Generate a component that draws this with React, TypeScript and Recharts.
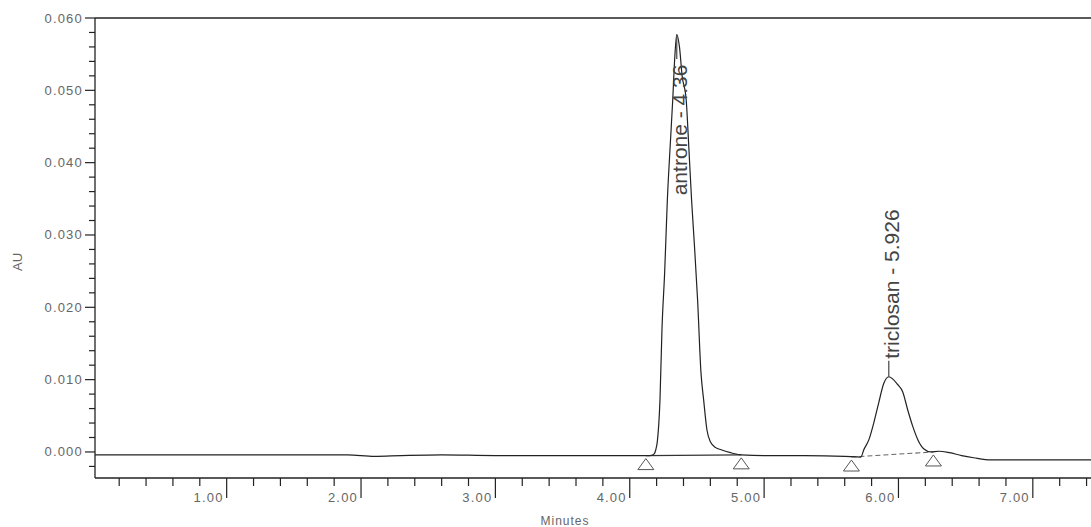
import { ComposedChart, Line, Scatter, XAxis, YAxis, ReferenceLine } from 'recharts';

// chromatogram trace (minutes, AU)
const traceTime = [
  0.02, 0.5, 1.0, 1.5, 1.9, 2.1, 2.3, 2.6, 3.0, 3.5, 4.0, 4.15,
  4.18, 4.195, 4.205, 4.225, 4.24, 4.26, 4.28, 4.3, 4.32, 4.335, 4.35,
  4.37, 4.39, 4.42, 4.44, 4.46, 4.48, 4.505, 4.53, 4.55, 4.575, 4.6, 4.64, 4.68, 4.75, 4.83,
  5.0, 5.3, 5.6, 5.72, 5.742, 5.78, 5.816, 5.853, 5.891, 5.928,
  5.995, 6.032, 6.069, 6.107, 6.144, 6.19, 6.24, 6.3, 6.38, 6.47, 6.56, 6.69, 7.0, 7.5,
];
const traceAU = [
  -0.0004, -0.0004, -0.0004, -0.0004, -0.0004, -0.0006, -0.0005, -0.0004, -0.0005, -0.0005, -0.0005, -0.0005,
  -0.0003, 0.0004, 0.0014, 0.0072, 0.017, 0.0249, 0.0349, 0.042, 0.0487, 0.0545, 0.0577,
  0.056, 0.052, 0.0487, 0.042, 0.0349, 0.029, 0.021, 0.011, 0.0072, 0.003, 0.0014, 0.0006, 0.0003, -0.0001, -0.0004,
  -0.0005, -0.0005, -0.0006, -0.0007, 0.0003, 0.0017, 0.004, 0.0068, 0.0095, 0.0104,
  0.0093, 0.0083, 0.0058, 0.0035, 0.0017, 0.0004, 0.0, 0.0001, -0.0001, -0.0005, -0.0008, -0.0011, -0.0011, -0.0011,
];

// integration baselines
const antroneBaseTime = [4.12, 4.83];
const antroneBaseAU = [-0.0005, -0.0004];
const triclosanBaseTime = [5.65, 6.26];
const triclosanBaseAU = [-0.0007, 0.0];

// peak start/end marks
const markTime = [4.12, 4.83, 5.65, 6.26];
const markAU = [-0.0005, -0.0004, -0.0007, 0.0];

// peak labels
const peakNames = ['antrone - 4.36', 'triclosan - 5.926'];
const peakTime = [4.35, 5.928];
const peakAU = [0.0577, 0.0104];

const yTicks = [
  -0.002, 0, 0.002, 0.004, 0.006, 0.008, 0.01, 0.012, 0.014, 0.016, 0.018, 0.02,
  0.022, 0.024, 0.026, 0.028, 0.03, 0.032, 0.034, 0.036, 0.038, 0.04, 0.042,
  0.044, 0.046, 0.048, 0.05, 0.052, 0.054, 0.056, 0.058, 0.06,
];
const xTicks = [
  0.2, 0.4, 0.6, 0.8, 1, 1.2, 1.4, 1.6, 1.8, 2, 2.2, 2.4, 2.6, 2.8, 3, 3.2, 3.4, 3.6,
  3.8, 4, 4.2, 4.4, 4.6, 4.8, 5, 5.2, 5.4, 5.6, 5.8, 6, 6.2, 6.4, 6.6, 6.8, 7, 7.2, 7.4,
];

const zip = (ts: number[], vs: number[]) => ts.map((t, i) => ({ t, v: vs[i] }));
const trace = zip(traceTime, traceAU);
const antroneBase = zip(antroneBaseTime, antroneBaseAU);
const triclosanBase = zip(triclosanBaseTime, triclosanBaseAU);
const marks = zip(markTime, markAU);
const peaks = peakTime.map((t, i) => ({ t, v: peakAU[i], name: peakNames[i] }));

const FONT = '"Liberation Sans", Arial, sans-serif';
const INK = '#222';
const PLOT_TOP = 18;

function YTick(props: any) {
  const { x, y, payload } = props;
  const v = payload.value;
  const major = Math.abs(v * 100 - Math.round(v * 100)) < 1e-6;
  return (
    <g>
      <line x1={x - (major ? 10 : 6)} x2={x} y1={y} y2={y} stroke={INK} strokeWidth={1.2} />
      {major && (
        <text x={x - 12} y={y + 4.5} textAnchor="end" fontSize={13} letterSpacing={1.2} fill="#666" fontFamily={FONT}>
          {v.toFixed(3)}
        </text>
      )}
    </g>
  );
}

function XTick(props: any) {
  const { x, y, payload } = props;
  const v = payload.value;
  const major = Math.abs(v - Math.round(v)) < 1e-6;
  return (
    <g>
      <line x1={x} x2={x} y1={y} y2={y + (major ? 20 : 8)} stroke={INK} strokeWidth={1.2} />
      {major && (
        <text x={x - 3} y={y + 24} textAnchor="end" fontSize={13} letterSpacing={1.2} fill="#666" fontFamily={FONT}>
          {v.toFixed(2)}
        </text>
      )}
    </g>
  );
}

function Triangle(props: any) {
  const { cx, cy } = props;
  return (
    <path
      d={`M${cx},${cy + 3} L${cx - 8},${cy + 14} L${cx + 8},${cy + 14} Z`}
      fill="none"
      stroke="#555"
      strokeWidth={1}
    />
  );
}

function PeakLabel(props: any) {
  const { cx, cy, payload } = props;
  const fs = 21;
  const len = payload.name.length * fs * 0.45;
  // keep the text inside the plot, like the acquisition software does
  const start = Math.max(cy - 18, PLOT_TOP + 45 + len);
  const below = start > cy;
  const lineEnd = below ? start - len - 4 : cy - 16;
  return (
    <g>
      <line x1={cx} x2={cx} y1={cy} y2={lineEnd} stroke="#444" strokeWidth={1.2} />
      <text
        x={cx + 10}
        y={start}
        transform={`rotate(-90 ${cx + 10} ${start})`}
        fontSize={fs}
        fill="#444"
        fontFamily={FONT}
      >
        {payload.name}
      </text>
    </g>
  );
}

export default function App() {
  return (
    <div style={{ position: 'absolute', left: 0, top: 0, width: 1091, height: 527, overflow: 'hidden', background: '#fff' }}>
      <ComposedChart width={1130} height={540} margin={{ top: PLOT_TOP, right: 30, bottom: 0, left: 0 }}>
        <XAxis
          dataKey="t"
          type="number"
          domain={[0.02, 7.5]}
          allowDataOverflow
          ticks={xTicks}
          interval={0}
          tick={<XTick />}
          tickLine={false}
          tickSize={0}
          tickMargin={0}
          height={62}
          axisLine={{ stroke: INK, strokeWidth: 1.3 }}
          label={{
            content: (p: any) => (
              <text x={565} y={p.viewBox.y + 47} textAnchor="middle" fontSize={12} letterSpacing={1} fill="#666" fontFamily={FONT}>
                Minutes
              </text>
            ),
          }}
        />
        <YAxis
          type="number"
          domain={[-0.0036, 0.06]}
          allowDataOverflow
          ticks={yTicks}
          interval={0}
          tick={<YTick />}
          tickLine={false}
          tickSize={0}
          tickMargin={0}
          width={95}
          axisLine={{ stroke: INK, strokeWidth: 1.3 }}
          label={{
            content: (p: any) => {
              const x = p.viewBox.x + 22;
              const y = p.viewBox.y + p.viewBox.height / 2 + 14;
              return (
                <text x={x} y={y} transform={`rotate(-90 ${x} ${y})`} textAnchor="middle" fontSize={13} fill="#666" fontFamily={FONT}>
                  AU
                </text>
              );
            },
          }}
        />
        <ReferenceLine y={0.06} stroke={INK} strokeWidth={1.3} />
        <Line data={antroneBase} dataKey="v" stroke="#333" strokeWidth={1.4} dot={false} isAnimationActive={false} />
        <Line data={triclosanBase} dataKey="v" stroke="#666" strokeWidth={1.1} strokeDasharray="5 3" dot={false} isAnimationActive={false} />
        <Line data={trace} dataKey="v" type="monotone" stroke="#222" strokeWidth={1.2} dot={false} isAnimationActive={false} />
        <Scatter data={marks} dataKey="v" shape={<Triangle />} isAnimationActive={false} />
        <Scatter data={peaks} dataKey="v" shape={<PeakLabel />} isAnimationActive={false} />
      </ComposedChart>
    </div>
  );
}
